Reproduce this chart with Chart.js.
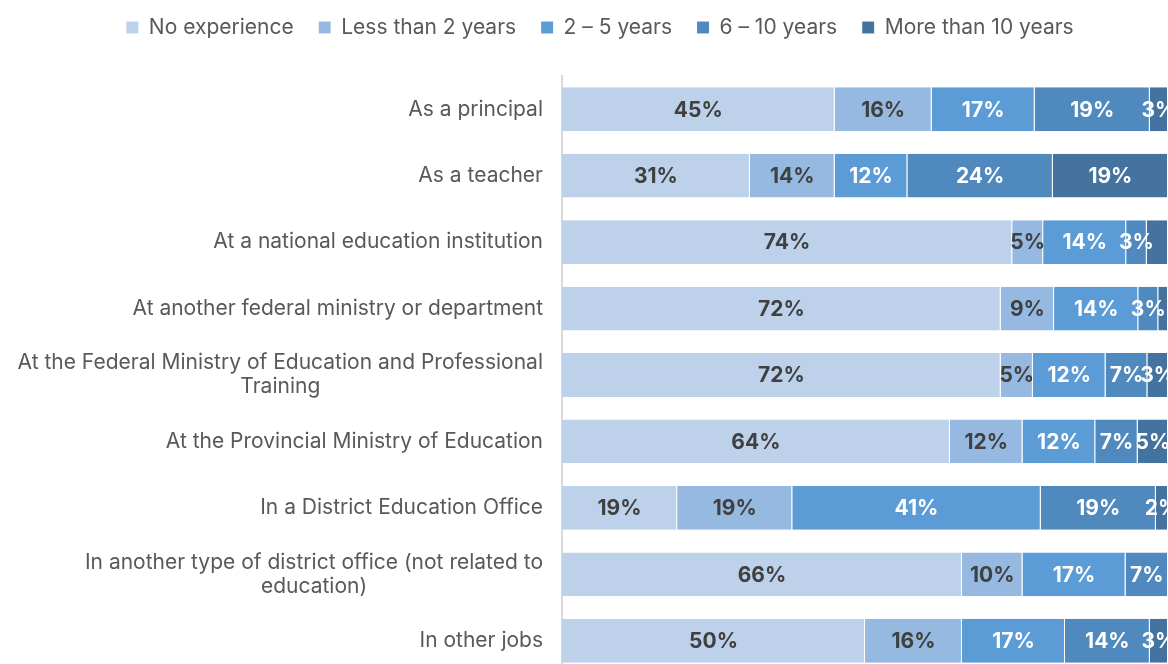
<!DOCTYPE html>
<html>
<head>
<meta charset="utf-8">
<script src="https://cdn.jsdelivr.net/npm/chart.js@4.4.1/dist/chart.umd.min.js"></script>
<style>
  html, body { margin: 0; padding: 0; background: #fff; overflow: hidden; }
  #wrap { position: relative; width: 1168px; height: 674px; }
</style>
</head>
<body>
<div id="wrap"><canvas id="grafico-experiencia"></canvas></div>
<script>
// categorias (las largas van partidas en dos lineas)
const categorias = [
  ['As a principal'],
  ['As a teacher'],
  ['At a national education institution'],
  ['At another federal ministry or department'],
  ['At the Federal Ministry of Education and Professional', 'Training'],
  ['At the Provincial Ministry of Education'],
  ['In a District Education Office'],
  ['In another type of district office (not related to', 'education)'],
  ['In other jobs']
];

const series = ['No experience', 'Less than 2 years', '2 – 5 years', '6 – 10 years', 'More than 10 years'];

// porcentajes por serie, mismo orden que las categorias
const sinExperiencia = [45, 31, 74.3, 72.4, 72.4, 64, 19, 66, 50];
const menosDe2 = [16, 14, 5.1, 8.8, 5.3, 12, 19, 10, 16];
const de2a5 = [17, 12, 13.7, 13.9, 12, 12, 41, 17, 17];
const de6a10 = [19, 24, 3.4, 3.3, 6.9, 7, 19, 7, 14];
const masDe10 = [3, 19, 3.5, 1.6, 3.4, 5, 2, 0, 3];

// segmentos sin etiqueta ("serie-fila")
const sinEtiqueta = ['4-2', '4-3'];

const colores = ['#BDD1EA', '#95B9E0', '#5B9BD6', '#4F89BE', '#44739F'];
const coloresTexto = ['#404040', '#404040', '#ffffff', '#ffffff', '#ffffff'];
const FUENTE = 'Inter, "Open Sans", sans-serif';

const valores = [sinExperiencia, menosDe2, de2a5, de6a10, masDe10];

// etiquetas de porcentaje dentro de cada segmento
const pluginEtiquetas = {
  id: 'etiquetasBarras',
  afterDatasetsDraw(chart) {
    const ctx = chart.ctx;
    ctx.save();
    ctx.font = 'bold 21px ' + FUENTE;
    ctx.textAlign = 'center';
    ctx.textBaseline = 'middle';
    chart.data.datasets.forEach((ds, i) => {
      const meta = chart.getDatasetMeta(i);
      meta.data.forEach((bar, j) => {
        const v = ds.data[j];
        if (!v || sinEtiqueta.includes(i + '-' + j)) return;
        const x = (bar.x + bar.base) / 2;
        ctx.fillStyle = coloresTexto[i];
        ctx.fillText(Math.round(v) + '%', x, bar.y + 1);
      });
    });
    ctx.restore();
  }
};

// nombres de categoria: bloque alineado a la derecha, lineas centradas entre si
const pluginCategorias = {
  id: 'nombresCategorias',
  afterDraw(chart) {
    const ctx = chart.ctx;
    const escala = chart.scales.y;
    const derecha = chart.chartArea.left - 19;
    ctx.save();
    ctx.font = '21px ' + FUENTE;
    ctx.fillStyle = '#595959';
    ctx.textAlign = 'center';
    ctx.textBaseline = 'middle';
    categorias.forEach((lineas, j) => {
      const yc = escala.getPixelForValue(j);
      const ancho = Math.max(...lineas.map(l => ctx.measureText(l).width));
      const xc = derecha - ancho / 2;
      const alto = 24;
      lineas.forEach((l, k) => {
        ctx.fillText(l, xc, yc + (k - (lineas.length - 1) / 2) * alto);
      });
    });
    ctx.restore();
  }
};

// leyenda: mas espacio debajo y un poco corrida a la derecha
const pluginLeyenda = {
  id: 'ajusteLeyenda',
  beforeInit(chart) {
    const leyenda = chart.legend;
    const fitOriginal = leyenda.fit;
    leyenda.fit = function () {
      fitOriginal.call(leyenda);
      this.height += 28;
    };
    const drawOriginal = leyenda.draw;
    leyenda.draw = function () {
      const c = chart.ctx;
      c.save();
      c.translate(16, 0);
      drawOriginal.call(leyenda);
      c.restore();
    };
  }
};

const ctx = document.getElementById('grafico-experiencia');

new Chart(ctx.getContext('2d'), {
  type: 'bar',
  data: {
    labels: categorias.map(c => c.join(' ')),
    datasets: series.map((nombre, i) => ({
      label: nombre,
      data: valores[i],
      backgroundColor: colores[i],
      borderColor: 'rgba(255,255,255,0.3)',
      borderWidth: { right: 1 },
      borderSkipped: false,
      categoryPercentage: 1,
      barPercentage: 0.66
    }))
  },
  options: {
    indexAxis: 'y',
    responsive: true,
    maintainAspectRatio: false,
    animation: false,
    layout: { padding: { top: -8, left: 0, right: 0, bottom: 0 } },
    plugins: {
      legend: {
        position: 'top',
        align: 'center',
        labels: {
          boxWidth: 12,
          boxHeight: 12,
          padding: 25,
          color: '#595959',
          font: { family: FUENTE, size: 21 }
        }
      },
      tooltip: { enabled: false }
    },
    scales: {
      x: { stacked: true, min: 0, max: 100, display: false },
      y: {
        stacked: true,
        grid: { display: false },
        ticks: { display: false },
        border: { display: true, color: '#D9D9D9', width: 2 },
        afterFit: s => { s.width = 562; }
      }
    }
  },
  plugins: [pluginEtiquetas, pluginCategorias, pluginLeyenda]
});
</script>
</body>
</html>
